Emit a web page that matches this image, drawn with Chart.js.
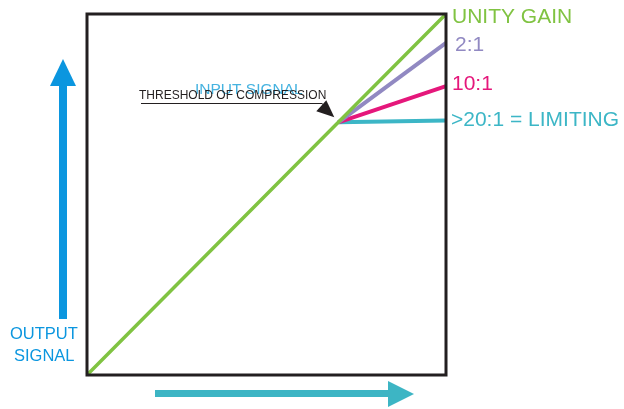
<!DOCTYPE html>
<html><head><meta charset="utf-8">
<script src="https://cdn.jsdelivr.net/npm/chart.js@4"></script>
<style>html,body{margin:0;padding:0;background:#fff}#wrap{width:624px;height:409px;position:relative}</style>
</head><body><div id="wrap"><canvas id="c" width="624" height="409"></canvas></div>
<script>
// Data (input level %, output level %)
const inputPoints = [0, 70, 100];
const unityGain = [0, 70, 100];
const ratio2to1 = [null, 70, 92];
const ratio10to1 = [null, 70, 80];
const limiting = [null, 70, 70.5];
const seriesLabels = ['UNITY GAIN', '2:1', '10:1', '>20:1 = LIMITING'];
const seriesColors = ['#80c342', '#9189c2', '#e5177b', '#3cb6c6'];

function pts(arr){ return inputPoints.map((x,i)=>arr[i]==null?null:{x:x,y:arr[i]}).filter(p=>p); }

const overlay = {
  id:'overlay',
  afterDatasetsDraw(chart){
    const ctx = chart.ctx, a = chart.chartArea;
    const xs = chart.scales.x, ys = chart.scales.y;
    ctx.save();
    ctx.strokeStyle = '#231f20'; ctx.lineWidth = 3;
    ctx.strokeRect(a.left, a.top, a.right-a.left, a.bottom-a.top);
    ctx.restore();
    ctx.save();
    ctx.textBaseline = 'middle';
    ctx.font = '21px Arial, "Liberation Sans", sans-serif';
    const sets = [unityGain, ratio2to1, ratio10to1, limiting];
    const yOff = [3, 2, -2, 0];
    const xOff = [6, 9, 6, 5];
    sets.forEach((s,i)=>{
      ctx.fillStyle = seriesColors[i];
      ctx.fillText(seriesLabels[i], a.right + xOff[i], ys.getPixelForValue(s[2]) + yOff[i]);
    });
    const tx = xs.getPixelForValue(70), ty = ys.getPixelForValue(70);
    ctx.font = '15.5px Arial, "Liberation Sans", sans-serif';
    ctx.fillStyle = '#46b3e0';
    ctx.fillText('INPUT SIGNAL', 195, 90);
    ctx.font = '12px Arial, "Liberation Sans", sans-serif';
    ctx.fillStyle = '#231f20';
    ctx.fillText('THRESHOLD OF COMPRESSION', 139, 96);
    ctx.strokeStyle = '#231f20'; ctx.lineWidth = 1;
    ctx.beginPath(); ctx.moveTo(141,103.5); ctx.lineTo(322,103.5); ctx.lineTo(328,109); ctx.stroke();
    ctx.beginPath(); ctx.moveTo(tx-4, ty-5); ctx.lineTo(tx-12, ty-22); ctx.lineTo(tx-22, ty-11); ctx.closePath();
    ctx.fillStyle = '#231f20'; ctx.fill();
    ctx.fillStyle = '#0b96df';
    ctx.fillRect(59, 84, 8, 235);
    ctx.beginPath(); ctx.moveTo(63, 59); ctx.lineTo(76, 86); ctx.lineTo(50, 86); ctx.closePath(); ctx.fill();
    ctx.font = '16.5px Arial, "Liberation Sans", sans-serif';
    ctx.textAlign = 'left';
    ctx.fillText('OUTPUT', 10, 334);
    ctx.fillText('SIGNAL', 14, 356);
    ctx.fillStyle = '#3db5c4';
    ctx.fillRect(155, 390, 236, 7);
    ctx.beginPath(); ctx.moveTo(388, 381); ctx.lineTo(414, 394); ctx.lineTo(388, 407); ctx.closePath(); ctx.fill();
    ctx.restore();
  }
};

new Chart(document.getElementById('c'), {
  type: 'scatter',
  data: { datasets: [
    {label:seriesLabels[3], data:pts(limiting), borderColor:seriesColors[3], borderWidth:4, showLine:true, pointRadius:0, order:4},
    {label:seriesLabels[2], data:pts(ratio10to1), borderColor:seriesColors[2], borderWidth:4, showLine:true, pointRadius:0, order:3},
    {label:seriesLabels[1], data:pts(ratio2to1), borderColor:seriesColors[1], borderWidth:4, showLine:true, pointRadius:0, order:2},
    {label:seriesLabels[0], data:pts(unityGain), borderColor:seriesColors[0], borderWidth:3.5, showLine:true, pointRadius:0, order:1}
  ]},
  options: {
    responsive:false, animation:false, devicePixelRatio:1,
    layout:{padding:{left:87, top:14, right:178, bottom:34}},
    plugins:{legend:{display:false}, tooltip:{enabled:false}},
    scales:{
      x:{type:'linear', min:0, max:100, display:false},
      y:{type:'linear', min:0, max:100, display:false}
    },
    elements:{line:{tension:0, borderCapStyle:'butt'}},
    datasets:{scatter:{clip:false}}
  },
  plugins:[overlay]
});
</script></body></html>
